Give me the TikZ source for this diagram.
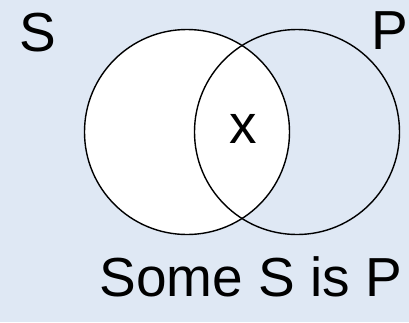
\documentclass[tikz,border=0pt]{standalone}
\usepackage{fontspec}
\setmainfont{Liberation Sans}
\usetikzlibrary{positioning}
\definecolor{fond}{HTML}{DFE8F4}
\tikzset{
  cercle/.style={circle, draw=black, line width=1.4pt, minimum size=205pt, inner sep=0pt},
  lettre/.style={inner sep=0pt, font=\fontsize{55}{62}\selectfont},
}
\begin{document}
\begin{tikzpicture}[x=1pt,y=-1pt]
  \fill[fond] (0,0) rectangle (409,322);
  \useasboundingbox (0,0) rectangle (409,322);
  \node[cercle, fill=white] (s) at (187,132) {};
  \node[cercle] (p) at (297,132) {};
  \node[lettre] (ls) at (38,33) {S};
  \node[lettre] (lp) at (390,31) {P};
  \node[lettre] (x) at (243,129) {x};
  \node[lettre] (titre) at (251,277) {Some S is P};
\end{tikzpicture}
\end{document}
